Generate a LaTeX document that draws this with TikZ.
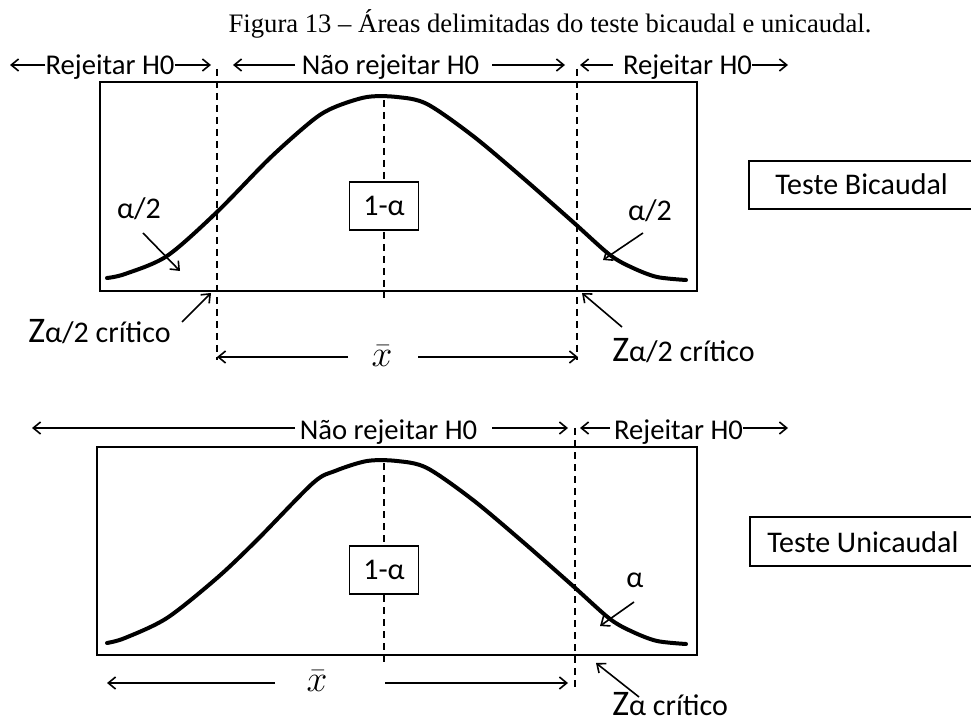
\documentclass[tikz,border=0pt]{standalone}
\usepackage{fontspec}
\setmainfont{Carlito}
\newfontfamily\titlefont{Liberation Serif}
\usetikzlibrary{arrows.meta}
\begin{document}
\begin{tikzpicture}[x=0.75pt,y=-0.75pt,
  frame/.style={line width=2pt},
  bell/.style={line width=3pt, line cap=round, line join=round},
  dashline/.style={line width=1.1pt, dash pattern=on 5.5pt off 3.5pt},
  arr/.style={line width=1.2pt, -{Straight Barb[length=5.5pt,width=9pt]}},
  lbl/.style={inner sep=0pt, font=\fontsize{21.5}{24}\selectfont, anchor=base},
  txt/.style={inner sep=0pt, font=\fontsize{22.5}{26}\selectfont, anchor=base},
  zlbl/.style={inner sep=0pt, font=\fontsize{22.5}{26}\selectfont, anchor=base west},
  onebox/.style={draw, fill=white, line width=0.9pt, minimum width=52pt, minimum height=36pt, inner sep=0pt, font=\fontsize{22.5}{26}\selectfont},
  testbox/.style={line width=1.6pt},
  xb/.style={inner sep=0pt, font=\huge}
]
\fill[white] (0,0) rectangle (971,723);
\useasboundingbox (0,0) rectangle (971,723);

% title
\node[anchor=base, inner sep=0pt, font=\titlefont\fontsize{20}{24}\selectfont] (title) at (550,33)
  {Figura 13 – Áreas delimitadas do teste bicaudal e unicaudal.};

% ================= TOP (bicaudal) =================
\draw[frame] (100,82) rectangle (697,291);

% dashed lines
\coordinate (dL1) at (217,69);  \coordinate (dL2) at (217,360);
\coordinate (dC1) at (384,100); \coordinate (dC2) at (384,298);
\coordinate (dR1) at (577,69);  \coordinate (dR2) at (577,360);
\draw[dashline] (dL1) -- (dL2);
\draw[dashline] (dC1) -- (dC2);
\draw[dashline] (dR1) -- (dR2);

% bell curve
\draw[bell] plot[smooth, tension=0.5] coordinates {(107,278) (125,274) (167,256) (217,212) (270,158) (313,120) (335,107) (367,97) (397,97) (427,104) (473,136) (523,178) (573,222) (610,255) (633,268) (657,277) (686,280)};

\node[onebox] (oneA) at (384,206) {1-α};

% top labels
\node[lbl] (rejL) at (110,75) {Rejeitar H0};
\coordinate (rejLt) at (10,65);
\coordinate (rejRt) at (211,65);
\draw[arr] (rejL.west |- rejLt) -- (rejLt);
\draw[arr] (rejL.east |- rejRt) -- (rejRt);

\node[lbl] (nrej) at (390.5,75) {Não rejeitar H0};
\coordinate (nrejLs) at (295,65); \coordinate (nrejLt) at (233,65);
\coordinate (nrejRs) at (492,65); \coordinate (nrejRt) at (565,65);
\draw[arr] (nrejLs) -- (nrejLt);
\draw[arr] (nrejRs) -- (nrejRt);

\node[lbl] (rejR) at (687.5,75) {Rejeitar H0};
\coordinate (rejRLs) at (613,65); \coordinate (rejRLt) at (580,65);
\coordinate (rejRRt) at (788,65);
\draw[arr] (rejRLs) -- (rejRLt);
\draw[arr] (rejR.east |- rejRRt) -- (rejRRt);

% alpha/2 labels
\node[txt] (al) at (139,219) {α/2};
\coordinate (alS) at (143,233); \coordinate (alT) at (180,271);
\draw[arr] (alS) -- (alT);
\node[txt] (ar) at (650,221) {α/2};
\coordinate (arS) at (643,233); \coordinate (arT) at (603,260);
\draw[arr] (arS) -- (arT);

% Z labels
\node[zlbl] (zl) at (28,343) {{\fontsize{27}{30}\selectfont Z}α/2 crítico};
\coordinate (zlS) at (182,322); \coordinate (zlT) at (211,293);
\draw[arr] (zlS) -- (zlT);
\node[zlbl] (zr) at (612,362) {{\fontsize{27}{30}\selectfont Z}α/2 crítico};
\coordinate (zrS) at (622,327); \coordinate (zrT) at (582,293);
\draw[arr] (zrS) -- (zrT);

% xbar
\node[xb] (xb1) at (382,356) {\scalebox{1.35}{$\bar{x}$}};
\coordinate (xb1Ls) at (348,357); \coordinate (xb1Lt) at (217,357);
\coordinate (xb1Rs) at (418,357); \coordinate (xb1Rt) at (578,357);
\draw[arr] (xb1Ls) -- (xb1Lt);
\draw[arr] (xb1Rs) -- (xb1Rt);

% Teste Bicaudal
\draw[testbox] (749,161) rectangle (990,209);
\node[zlbl] (tb) at (775,195) {Teste Bicaudal};

% ================= BOTTOM (unicaudal) =================
\draw[frame] (97,447) rectangle (697,655);

\coordinate (eC1) at (384,463); \coordinate (eC2) at (384,662);
\coordinate (eR1) at (575,428); \coordinate (eR2) at (575,689);
\draw[dashline] (eC1) -- (eC2);
\draw[dashline] (eR1) -- (eR2);

\begin{scope}[shift={(0,364)}]
\draw[bell] plot[smooth, tension=0.5] coordinates {(107,279) (125,274) (167,254) (217,214) (257,176) (313,119) (335,107) (367,97) (397,97) (427,104) (473,136) (523,178) (573,222) (610,255) (633,268) (657,277) (686,280)};
\end{scope}

\node[onebox] (oneB) at (384,570) {1-α};

\node[lbl] (nrej2) at (388.5,440) {Não rejeitar H0};
\coordinate (n2Ls) at (295,428); \coordinate (n2Lt) at (32,428);
\coordinate (n2Rs) at (492,428); \coordinate (n2Rt) at (568,428);
\draw[arr] (n2Ls) -- (n2Lt);
\draw[arr] (n2Rs) -- (n2Rt);

\node[lbl] (rejR2) at (678.5,440) {Rejeitar H0};
\coordinate (r2Ls) at (610,428); \coordinate (r2Lt) at (580,428);
\coordinate (r2Rt) at (788,428);
\draw[arr] (r2Ls) -- (r2Lt);
\draw[arr] (rejR2.east |- r2Rt) -- (r2Rt);

\node[txt] (ab) at (635,587) {α};
\coordinate (abS) at (634,602); \coordinate (abT) at (600,626);
\draw[arr] (abS) -- (abT);

\node[zlbl] (zb) at (612,715) {{\fontsize{27}{30}\selectfont Z}α crítico};
\coordinate (zbS) at (639,697); \coordinate (zbT) at (596,663);
\draw[arr] (zbS) -- (zbT);

\node[xb] (xb2) at (317,681) {\scalebox{1.35}{$\bar{x}$}};
\coordinate (xb2Ls) at (275,683); \coordinate (xb2Lt) at (107,683);
\coordinate (xb2Rs) at (385,683); \coordinate (xb2Rt) at (568,683);
\draw[arr] (xb2Ls) -- (xb2Lt);
\draw[arr] (xb2Rs) -- (xb2Rt);

\draw[testbox] (750,517) rectangle (990,566);
\node[zlbl] (tu) at (767,552) {Teste Unicaudal};
\end{tikzpicture}
\end{document}
